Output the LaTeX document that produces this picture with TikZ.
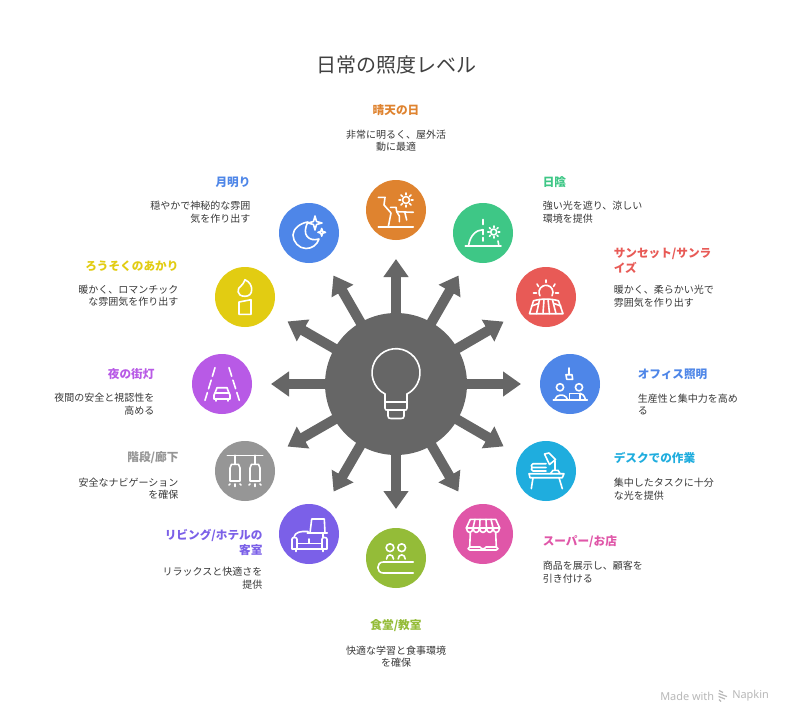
\documentclass[tikz,border=0pt]{standalone}
\usepackage{fontspec}
\newfontfamily\jp{Noto Sans CJK JP}
\newfontfamily\ftfont{Noto Sans}
\usetikzlibrary{arrows.meta,calc}
\def\px{0.75pt}
\definecolor{cOrange}{HTML}{DF832F}
\definecolor{cGreen}{HTML}{3EC786}
\definecolor{cBlue}{HTML}{4E86E8}
\definecolor{cYellow}{HTML}{E2CC12}
\definecolor{cRed}{HTML}{E85A56}
\definecolor{cCyan}{HTML}{1FADDE}
\definecolor{cPink}{HTML}{E056A8}
\definecolor{cOlive}{HTML}{94BC38}
\definecolor{cPurple}{HTML}{7B60E8}
\definecolor{cGray}{HTML}{969696}
\definecolor{cMagenta}{HTML}{B85AE6}
\definecolor{cHub}{HTML}{666666}
\tikzset{
  x=0.75pt,y=-0.75pt,
  icon/.style={circle,inner sep=0pt,minimum size=60*\px,fill=#1},
  hubnode/.style={circle,inner sep=0pt,minimum size=142*\px,fill=cHub},
  spoke/.style={draw=cHub,line width=10*\px,shorten >=49*\px,
     -{Triangle[length=18*\px,width=24*\px]}},
  glyph/.style={draw=white,line width=1.6*\px,line cap=round,line join=round,fill=none},
  head/.style={font=\jp\bfseries\fontsize{8.73}{11.25}\selectfont,inner sep=0pt,text=#1},
  desc/.style={font=\jp\fontsize{7.5}{9.4}\selectfont,inner sep=0pt,text=black!78},
  ttl/.style={font=\jp\fontsize{15}{18}\selectfont,inner sep=0pt,text=black!75},
  foot/.style={font=\ftfont\fontsize{8.2}{10}\selectfont,inner sep=0pt,text=black!28},
}
\newcommand{\sunglyph}[3]{% x y r
  \draw[glyph] (#1,#2) circle[radius=#3*\px];
  \foreach \a in {0,45,...,315}{
    \draw[glyph] ($(#1,#2)+(\a:#3*1.5*\px)$) -- ($(#1,#2)+(\a:#3*2*\px)$);
  }
}
\begin{document}
\begin{tikzpicture}
\useasboundingbox (0,0) rectangle (792,724);
\fill[white] (0,0) rectangle (792,724);

\node[ttl] (title) at (396,65) {日常の照度レベル};

% nodes
\node[icon=cOrange] (i1) at (396,210) {};
\node[icon=cGreen] (i2) at (483,233) {};
\node[icon=cRed] (i3) at (546,297) {};
\node[icon=cBlue] (i4) at (570,384) {};
\node[icon=cCyan] (i5) at (546,471) {};
\node[icon=cPink] (i6) at (483,534) {};
\node[icon=cOlive] (i7) at (396,558) {};
\node[icon=cPurple] (i8) at (309,534) {};
\node[icon=cGray] (i9) at (245,471) {};
\node[icon=cMagenta] (i10) at (222,384) {};
\node[icon=cYellow] (i11) at (245,297) {};
\node[icon=cBlue] (i12) at (309,233) {};
\node[hubnode] (hub) at (396,384) {};

% spokes
\foreach \n in {1,...,12}{
  \draw[spoke] (hub.center) -- (i\n.center);
}

% bulb
\begin{scope}[shift={(hub.center)}]
  \draw[glyph] (-11,10) arc[start angle=242.7,end angle=-62.7,radius=24*\px];
  \draw[glyph] (-11,10) -- (-11,24) .. controls (-11,26) and (-10,26) .. (-9,26) -- (9,26) .. controls (10,26) and (11,26) .. (11,24) -- (11,10);
  \draw[glyph] (-11,17.7) -- (11,17.7);
  \draw[glyph] (-8,26) -- (-8,32) .. controls (-8,34) and (-7,34.5) .. (-5,34.5) -- (5,34.5) .. controls (7,34.5) and (8,34) .. (8,32) -- (8,26);
\end{scope}

% 1 cliff
\begin{scope}[shift={(i1.center)}]
  \sunglyph{10}{-10}{3.5}
  \draw[glyph] (-17.7,-12.7) -- (-11,-12.7) -- (-12,-5) -- (-5,3) -- (-7.7,16.7);
  \draw[glyph] (-17.7,16.7) -- (17.3,16.7);
  \draw[glyph] (-5.5,-2.7) -- (0,-2.7) -- (0.7,1.7) -- (17.3,2.3);
  \draw[glyph] (0.7,1.7) -- (3.3,6) -- (3.3,11.7);
  \draw[glyph] (9,3) -- (10.7,10);
\end{scope}

% 2 shade
\begin{scope}[shift={(i2.center)}]
  \sunglyph{10.7}{-1}{3}
  \draw[glyph] (-17.7,12.7) -- (18,12.7);
  \draw[glyph] (-14.3,12) .. controls (-13,3) and (-7,-3.3) .. (0,-3.3);
  \draw[glyph] (0,-13.5) -- (0,-8.5);
  \draw[glyph] (0,-3.3) -- (0,1.5) (0,4.5) -- (0,8);
  \draw[glyph] (15.7,12) -- (15,8);
\end{scope}

% 3 sunset
\begin{scope}[shift={(i3.center)}]
  \draw[glyph] (-6.06,-1.2) arc[start angle=210,end angle=-30,radius=7*\px];
  \draw[glyph] (0,-17) -- (0,-14.5);
  \draw[glyph] (-9,-13) -- (-7.5,-10.5);
  \draw[glyph] (9,-13) -- (7.5,-10.5);
  \draw[glyph] (-12.5,-4) -- (-9.5,-4);
  \draw[glyph] (12.5,-4) -- (9.5,-4);
  \draw[glyph] (-12.5,3.8) .. controls (-5,1.5) and (5,1.5) .. (12.5,3.8) -- (17,16.7) -- (-16.5,16.7) -- cycle;
  \draw[glyph] (-6.5,2.8) -- (-9.5,16.7);
  \draw[glyph] (-2,2.3) -- (-3,16.7);
  \draw[glyph] (2,2.3) -- (3.5,16.7);
  \draw[glyph] (6.5,2.8) -- (10,16.7);
  \draw[glyph] (-14.5,9) -- (-7.5,6.5);
  \draw[glyph] (14.8,9) -- (8,6.5);
\end{scope}

% 4 office
\begin{scope}[shift={(i4.center)}]
  \draw[glyph] (-1,-16) -- (-1,-9.5);
  \draw[glyph] (-4,-9.3) -- (2,-9.3) -- (2.7,-4.7) -- (-3.3,-4.7) -- cycle;
  \draw[glyph] (-10,3.3) circle[radius=3.6*\px];
  \draw[glyph] (9,3.3) circle[radius=3.6*\px];
  \draw[glyph] (-16.7,16) -- (17.3,16);
  \draw[glyph] (-15,15.5) .. controls (-14,10) and (-6,10) .. (-4,13) -- (-2.5,15.5);
  \draw[glyph] (10,9.3) .. controls (12,9.5) and (14,11) .. (15.5,15.5);
  \draw[glyph] (-0.7,15.5) -- (-0.7,9.3) -- (10,9.3) -- (10,15.5);
\end{scope}

% 5 desk
\begin{scope}[shift={(i5.center)}]
  \draw[glyph] (-17,2.7) -- (18,2.7) -- (16.3,6.7) -- (-16,6.7) -- cycle;
  \draw[glyph] (-13,6.7) -- (-14.7,17.7);
  \draw[glyph] (13,6.7) -- (16.3,17.7);
  \draw[glyph] (-13,-7.3) -- (0,-7.3) (-14,-3.5) -- (0,-3.5) (-13,0) -- (0,0) (-13,-7.3) .. controls (-15,-5.5) .. (-14,-3.5) .. controls (-15,-1.5) .. (-13,0);
  \draw[glyph] (4.5,2.5) -- (7,-0.7) -- (12,-0.7) -- (14,2.5);
  \draw[glyph] (9,-0.7) -- (9,-10);
  \draw[glyph] (-1.5,-17) -- (3,-18) -- (9.5,-11.5) -- (3.5,-6.5) -- cycle;
\end{scope}

% 6 store
\begin{scope}[shift={(i6.center)}]
  \draw[glyph] (-12.7,-14.7) -- (12.7,-14.7) -- (16.7,-6) (-12.7,-14.7) -- (-16.7,-6);
  \draw[glyph] (-16.7,-6) .. controls (-16,0) and (-10.5,0) .. (-10,-6)
     .. controls (-9.5,0) and (-4,0) .. (-3.4,-6)
     .. controls (-3,0) and (3,0) .. (3.4,-6)
     .. controls (4,0) and (9.5,0) .. (10,-6)
     .. controls (10.5,0) and (16,0) .. (16.7,-6) -- cycle;
  \draw[glyph] (-8,-14.7) -- (-10,-6) (-3,-14.7) -- (-3.4,-6) (3,-14.7) -- (3.4,-6) (8,-14.7) -- (10,-6);
  \draw[glyph] (-12.7,-1) -- (-13.3,13) (12.7,-1) -- (13.3,13);
  \draw[glyph] (-13.3,13) .. controls (-15.5,13.5) and (-15.5,16) .. (-13.3,16) -- (13.3,16) .. controls (15.5,16) and (15.5,13.5) .. (13.3,13);
  \draw[glyph] (-13.3,13) -- (-3,13) .. controls (-1,15.5) and (1,15.5) .. (3,13) -- (13.3,13);
\end{scope}

% 7 table
\begin{scope}[shift={(i7.center)}]
  \draw[glyph] (-6,-10.3) circle[radius=3.9*\px];
  \draw[glyph] (5.7,-10.3) circle[radius=3.9*\px];
  \draw[glyph] (-9.5,1) .. controls (-9.5,-4.5) and (-2.5,-4.5) .. (-2.5,1);
  \draw[glyph] (2.2,1) .. controls (2.2,-4.5) and (9.2,-4.5) .. (9.2,1);
  \draw[glyph] (17.3,4) -- (-12.7,4) .. controls (-20,4) and (-20,15) .. (-12.7,15) -- (17.3,15);
\end{scope}

% 8 sofa
\begin{scope}[shift={(i8.center)}]
  \draw[glyph] (1,-1) -- (2.7,-15) -- (15.3,-15) -- (16,-1);
  \draw[glyph] (-1.7,-1) -- (18.3,-1);
  \draw[glyph] (-15,3) .. controls (-14,-2) and (-8,-3) .. (-1,-2.5);
  \draw[glyph] (14,-0.5) -- (14,3);
  \draw[glyph] (-17,5) .. controls (-17,3) and (-12,3) .. (-12,5) -- (-12,15) -- (-17,15) -- cycle;
  \draw[glyph] (13,5) .. controls (13,3) and (18,3) .. (18,5) -- (18,15) -- (13,15) -- cycle;
  \draw[glyph] (-12,9.3) -- (13,9.3);
  \draw[glyph] (0,5) -- (0,9.3);
  \draw[glyph] (-12,15) -- (13,15);
  \draw[glyph] (-13,15) -- (-13,17.5) (14,15) -- (14,17.5);
\end{scope}

% 9 stairs lights
\begin{scope}[shift={(i9.center)}]
  \draw[glyph] (-17.7,-15.7) -- (17.7,-15.7);
  \draw[glyph] (-10,-15.7) -- (-10,-6.7) (10,-15.7) -- (10,-6.7);
  \draw[glyph] (-13.5,-6.7) -- (-6.5,-6.7) -- (-5,-3) -- (-5,10) -- (-15,10) -- (-15,-3) -- cycle;
  \draw[glyph] (6.5,-6.7) -- (13.5,-6.7) -- (15,-3) -- (15,10) -- (5,10) -- (5,-3) -- cycle;
  \draw[glyph] (-16,14) -- (-15,13) (-10,13) -- (-10,15.5) (-4,14) -- (-5,13);
  \draw[glyph] (4,14) -- (5,13) (10,13) -- (10,15.5) (16,14) -- (15,13);
\end{scope}

% 10 road
\begin{scope}[shift={(i10.center)}]
  \draw[glyph,dash pattern=on 9*\px off 4*\px] (-7,-16.3) -- (-17,16.3);
  \draw[glyph,dash pattern=on 9*\px off 4*\px] (7,-16.3) -- (17.3,16.3);
  \draw[glyph] (-5,3.7) -- (5,3.7) -- (7,9) -- (8,11) -- (8,15) -- (-8,15) -- (-8,11) -- (-7,9) -- cycle;
  \draw[glyph] (-7,9) -- (7,9);
  \draw[glyph] (-6,15) -- (-6,17) (6,15) -- (6,17);
\end{scope}

% 11 candle
\begin{scope}[shift={(i11.center)}]
  \draw[glyph] (0,-0.7) .. controls (-9,-0.7) and (-8,-9) .. (-4,-11) .. controls (-2,-12.5) and (-1,-15) .. (0,-17.3) .. controls (5,-15) and (6.7,-11) .. (6.7,-7.5) .. controls (6.7,-3) and (4,-0.7) .. (0,-0.7);
  \draw[glyph] (-6,5) -- (6,2.7) -- (6,17.3) -- (-6,17.3) -- cycle;
\end{scope}

% 12 moon
\begin{scope}[shift={(i12.center)}]
  \draw[glyph] (-1,-11) .. controls (-9,-10) and (-16,-4) .. (-16,2) .. controls (-16,9) and (-10,15.5) .. (-3,15.5) .. controls (3,15.5) and (8,12) .. (10,6) .. controls (0,9) and (-8,2) .. (-1,-11);
  \draw[glyph] (6,-17) -- (7.5,-11.5) -- (13,-10) -- (7.5,-8.5) -- (6,-3) -- (4.5,-8.5) -- (-1,-10) -- (4.5,-11.5) -- cycle;
  \draw[glyph] (12.7,-4.5) -- (13.6,-1.6) -- (16.5,-0.7) -- (13.6,0.2) -- (12.7,3.1) -- (11.8,0.2) -- (8.9,-0.7) -- (11.8,-1.6) -- cycle;
\end{scope}

% labels
\begin{scope}[yshift=-0.75pt]
\node[head=cOrange] (h1) at (396,109) {晴天の日};
\node[desc,align=center] (d1) at (396,139.5) {非常に明るく、屋外活\\動に最適};
\node[head=cGreen,anchor=west] (h2) at (542.5,181) {日陰};
\node[desc,align=left,anchor=west] (d2) at (542.5,211) {強い光を遮り、涼しい\\環境を提供};
\node[head=cRed,align=left,anchor=west] (h3) at (613.5,259.5) {サンセット/サンラ\\イズ};
\node[desc,align=left,anchor=west] (d3) at (613.5,295) {暖かく、柔らかい光で\\雰囲気を作り出す};
\node[head=cBlue,anchor=west] (h4) at (637.5,373) {オフィス照明};
\node[desc,align=left,anchor=west] (d4) at (637.5,403.5) {生産性と集中力を高め\\る};
\node[head=cCyan,anchor=west] (h5) at (613.5,457) {デスクでの作業};
\node[desc,align=left,anchor=west] (d5) at (613.5,488) {集中したタスクに十分\\な光を提供};
\node[head=cPink,anchor=west] (h6) at (542.5,541) {スーパー/お店};
\node[desc,align=left,anchor=west] (d6) at (542.5,571) {商品を展示し、顧客を\\引き付ける};
\node[head=cOlive] (h7) at (396,625) {食堂/教室};
\node[desc,align=center] (d7) at (396,655.5) {快適な学習と食事環境\\を確保};
\node[head=cPurple,align=right,anchor=east] (h8) at (262.7,541.5) {リビング/ホテルの\\客室};
\node[desc,align=right,anchor=east] (d8) at (262.7,577) {リラックスと快適さを\\提供};
\node[head=cGray,anchor=east] (h9) at (178.7,457) {階段/廊下};
\node[desc,align=right,anchor=east] (d9) at (178.7,487.5) {安全なナビゲーション\\を確保};
\node[head=cMagenta,anchor=east] (h10) at (154.7,373) {夜の街灯};
\node[desc,align=right,anchor=east] (d10) at (154.7,403) {夜間の安全と視認性を\\高める};
\node[head=cYellow,anchor=east] (h11) at (178.7,265) {ろうそくのあかり};
\node[desc,align=right,anchor=east] (d11) at (178.7,295) {暖かく、ロマンチック\\な雰囲気を作り出す};
\node[head=cBlue,anchor=east] (h12) at (250.7,181) {月明り};
\node[desc,align=right,anchor=east] (d12) at (250.7,211) {穏やかで神秘的な雰囲\\気を作り出す};
\end{scope}

% footer
\node[foot,anchor=west] (made) at (660,696) {Made with};
\node[foot,anchor=west] (nap) at (732,696) {Napkin};
\draw[black!28,line width=1.2*\px] (719,690.5) -- (723,692.5) (718.5,693.5) -- (727,696.5) (718.5,696.5) -- (725,699) (719,699.5) -- (721,701.5);
\end{tikzpicture}
\end{document}
